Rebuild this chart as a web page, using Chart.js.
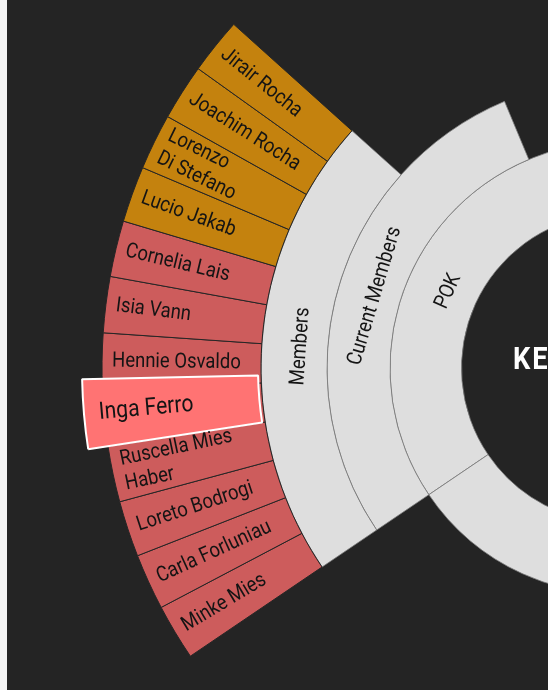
<!DOCTYPE html>
<html>
<head>
<meta charset="utf-8">
<title>Members sunburst</title>
<script src="https://cdn.jsdelivr.net/npm/chart.js@4.4.1/dist/chart.umd.min.js"></script>
<style>
    html, body { margin: 0; padding: 0; width: 548px; height: 690px; overflow: hidden; background: #f4f4f4; }
    #panel { position: absolute; left: 7px; top: 0; width: 541px; height: 690px; background: #242424; overflow: hidden; }
    #chart { position: absolute; left: 0; top: 0; }
</style>
</head>
<body>
<div id="panel"><canvas id="chart" width="1218" height="736"></canvas></div>
<script>
// Hierarchy data, innermost ring first
const rootLabel = 'KEY MEMBERS';

const topNames = ['POK', ''];
const topValues = [18.5, 38.3];

const currentNames = ['Current Members'];
const currentValues = [16];

const memberNames = ['Members'];
const memberValues = [12];

const leafNames = [
    'Minke Mies', 'Carla Forluniau', 'Loreto Bodrogi', 'Ruscella Mies\nHaber',
    'Inga Ferro', 'Hennie Osvaldo', 'Isia Vann', 'Cornelia Lais',
    'Lucio Jakab', 'Lorenzo\nDi Stefano', 'Joachim Rocha', 'Jirair Rocha'
];
const leafValues = [1, 1, 1, 1, 1, 1, 1, 1, 1, 1, 1, 1];
const leafGroups = [0, 0, 0, 0, 0, 0, 0, 0, 1, 1, 1, 1];
const focusLeaf = 'Inga Ferro';

// Colours
const GRAY = '#dedede';
const GRAY_LINE = '#7a7a7a';
const LEAF_COLORS = ['#cd5c5c', '#c4820e'];
const FOCUS_COLOR = '#ff7373';
const NONE = 'rgba(0,0,0,0)';

const total = topValues.reduce((a, b) => a + b, 0);

// pad a ring with an invisible slice so every ring shares the same angle scale
function withGap(values) {
    const used = values.reduce((a, b) => a + b, 0);
    return values.concat([total - used]);
}

function grayRing(names, values, weight) {
    return {
        names: names,
        data: withGap(values),
        weight: weight,
        backgroundColor: values.map(() => GRAY).concat([NONE]),
        borderColor: GRAY_LINE,
        borderWidth: values.map(() => 0.8).concat([0])
    };
}

const datasets = [
    {
        names: leafNames,
        data: withGap(leafValues),
        weight: 159,
        backgroundColor: leafGroups.map(g => LEAF_COLORS[g]).concat([NONE]),
        borderColor: '#262626',
        borderWidth: leafValues.map(() => 1).concat([0])
    },
    grayRing(memberNames, memberValues, 66),
    grayRing(currentNames, currentValues, 63),
    grayRing(topNames, topValues, 71.5)
];

const SQUEEZE = 0.88;   // condensed look
const FONT = '21px Roboto';

function drawText(ctx, lines, x, y, rot, font, align, lineH, color) {
    ctx.save();
    ctx.translate(x, y);
    ctx.rotate(rot);
    ctx.scale(SQUEEZE, 1);
    ctx.font = font;
    ctx.fillStyle = color;
    ctx.textAlign = align;
    ctx.textBaseline = 'middle';
    const off = (lines.length - 1) * lineH / 2;
    lines.forEach((t, k) => ctx.fillText(t, 0, k * lineH - off));
    ctx.restore();
}

// Hovered leaf look, then all labels
const sunburstLabels = {
    id: 'sunburstLabels',
    afterDatasetsDraw(chart) {
        const ctx = chart.ctx;
        const leafMeta = chart.getDatasetMeta(0);
        const fi = leafNames.indexOf(focusLeaf);
        const focusArc = leafMeta.data[fi];

        // emphasised slice: grows outward and a little along the ring
        const saved = focusArc.getProps(['startAngle', 'endAngle', 'circumference', 'innerRadius', 'outerRadius']);
        const savedOpts = focusArc.options;
        const extra = 1.2 * Math.PI / 180;
        focusArc.endAngle = saved.endAngle + extra;
        focusArc.circumference = saved.circumference + extra;
        focusArc.innerRadius = saved.innerRadius + 3;
        focusArc.outerRadius = saved.outerRadius + 20;
        focusArc.options = Object.assign({}, savedOpts, {
            backgroundColor: FOCUS_COLOR, borderColor: '#ffffff', borderWidth: 2
        });
        focusArc.draw(ctx);
        const focusGeom = focusArc.getProps(['startAngle', 'endAngle', 'outerRadius']);
        Object.assign(focusArc, saved);
        focusArc.options = savedOpts;

        chart.data.datasets.forEach((ds, di) => {
            const meta = chart.getDatasetMeta(di);
            ds.names.forEach((name, i) => {
                if (!name) return;
                const arc = meta.data[i];
                const p = arc.getProps(['x', 'y', 'startAngle', 'endAngle', 'innerRadius', 'outerRadius']);
                const lines = name.split('\n');
                if (di === 0) {
                    // radial label, starting near the outer edge
                    let s = p.startAngle, e = p.endAngle, r = p.outerRadius - 10, font = FONT;
                    if (i === fi) {
                        s = focusGeom.startAngle; e = focusGeom.endAngle;
                        r = focusGeom.outerRadius - 15;
                        font = '24px Roboto';
                    }
                    const mid = (s + e) / 2;
                    drawText(ctx, lines, p.x + r * Math.cos(mid), p.y + r * Math.sin(mid),
                        mid + Math.PI, font, 'left', 25, '#141414');
                } else {
                    // tangential label in the middle of the band
                    const mid = (p.startAngle + p.endAngle) / 2;
                    const r = (p.innerRadius + p.outerRadius) / 2 - 6;
                    drawText(ctx, lines, p.x + r * Math.cos(mid), p.y + r * Math.sin(mid),
                        mid + Math.PI / 2, FONT, 'center', 25, '#141414');
                }
            });
        });

        // root label
        const p0 = leafMeta.data[0];
        ctx.save();
        ctx.letterSpacing = '2px';
        drawText(ctx, [rootLabel], p0.x, p0.y - 7, 0, 'bold 31px Roboto', 'center', 0, '#ffffff');
        ctx.restore();
    }
};

new Chart(document.getElementById('chart'), {
    type: 'doughnut',
    data: {
        labels: leafNames,
        datasets: datasets
    },
    options: {
        responsive: false,
        animation: false,
        events: [],
        rotation: 235.9,
        radius: 514,
        cutout: '30.06%',
        layout: { padding: 0 },
        plugins: {
            legend: { display: false },
            tooltip: { enabled: false }
        }
    },
    plugins: [sunburstLabels]
});
</script>
</body>
</html>
